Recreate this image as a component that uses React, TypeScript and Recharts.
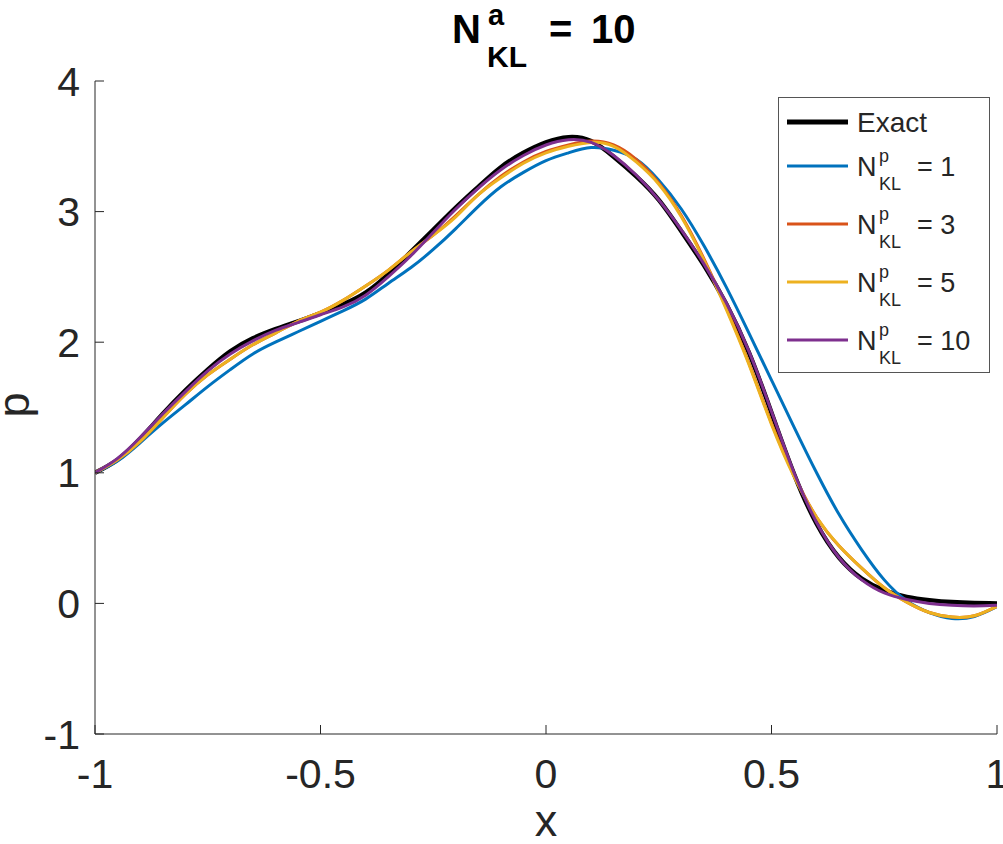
import { LineChart, Line, XAxis, YAxis, Legend } from 'recharts'

// x grid (step 0.05) and curve values
const xValues = [
  -1, -0.95, -0.9, -0.85, -0.8, -0.75, -0.7, -0.65, -0.6, -0.55, -0.5, -0.45, -0.4, -0.35,
  -0.3, -0.25, -0.2, -0.15, -0.1, -0.05, 0, 0.05, 0.1, 0.15, 0.2, 0.25, 0.3, 0.35, 0.4,
  0.45, 0.5, 0.55, 0.6, 0.65, 0.7, 0.75, 0.8, 0.85, 0.9, 0.95, 1,
]

const exact = [
  1.0, 1.1, 1.26, 1.45, 1.63, 1.79, 1.93, 2.03, 2.1, 2.16, 2.22, 2.29, 2.38, 2.52,
  2.69, 2.86, 3.03, 3.19, 3.34, 3.45, 3.53, 3.57, 3.54, 3.42, 3.27, 3.09, 2.85, 2.59, 2.29,
  1.92, 1.46, 0.99, 0.61, 0.35, 0.19, 0.1, 0.05, 0.025, 0.01, 0.003, 0.0,
]

const nkl1 = [
  1.0, 1.09, 1.23, 1.38, 1.52, 1.66, 1.79, 1.91, 2.0, 2.08, 2.16, 2.24, 2.33, 2.45,
  2.57, 2.71, 2.87, 3.04, 3.19, 3.3, 3.39, 3.45, 3.49, 3.47, 3.4, 3.24, 3.02, 2.74, 2.42,
  2.07, 1.71, 1.35, 1.0, 0.68, 0.41, 0.18, 0.02, -0.07, -0.115, -0.1, -0.025,
]

const nkl3 = [
  1.0, 1.1, 1.24, 1.42, 1.6, 1.75, 1.87, 1.98, 2.07, 2.16, 2.23, 2.32, 2.43, 2.55,
  2.69, 2.82, 2.97, 3.13, 3.27, 3.38, 3.46, 3.51, 3.54, 3.51, 3.4, 3.22, 2.97, 2.64, 2.26,
  1.84, 1.38, 0.98, 0.66, 0.44, 0.27, 0.12, 0.01, -0.07, -0.105, -0.095, -0.023,
]

const nkl5 = [
  1.0, 1.1, 1.24, 1.42, 1.6, 1.75, 1.87, 1.98, 2.07, 2.16, 2.23, 2.32, 2.43, 2.55,
  2.69, 2.82, 2.96, 3.13, 3.26, 3.37, 3.45, 3.5, 3.53, 3.5, 3.38, 3.21, 2.96, 2.63, 2.25,
  1.83, 1.37, 0.97, 0.66, 0.44, 0.27, 0.12, 0.01, -0.07, -0.105, -0.095, -0.023,
]

const nkl10 = [
  1.0, 1.11, 1.27, 1.45, 1.62, 1.78, 1.91, 2.01, 2.09, 2.15, 2.21, 2.27, 2.36, 2.5,
  2.66, 2.84, 3.02, 3.18, 3.32, 3.43, 3.51, 3.55, 3.53, 3.43, 3.28, 3.09, 2.86, 2.6, 2.3,
  1.93, 1.47, 1.0, 0.62, 0.35, 0.18, 0.08, 0.03, 0.0, -0.015, -0.02, -0.015,
]

const xTicks = [-1, -0.5, 0, 0.5, 1]
const yTicks = [-1, 0, 1, 2, 3, 4]

const SERIES = [
  { key: 'exact', color: '#000000', width: 4.5, label: 'Exact' },
  { key: 'n1', color: '#0072BD', width: 3, label: '1' },
  { key: 'n3', color: '#D95319', width: 3, label: '3' },
  { key: 'n5', color: '#EDB120', width: 3, label: '5' },
  { key: 'n10', color: '#7E2F8E', width: 3, label: '10' },
]

const data = xValues.map((x, i) => ({
  x,
  exact: exact[i],
  n1: nkl1[i],
  n3: nkl3[i],
  n5: nkl5[i],
  n10: nkl10[i],
}))

const AXIS = '#262626'
const FONT = '"Liberation Sans", Arial, Helvetica, sans-serif'
const TICK_FS = 41

function XTick(props: any) {
  const { x, y, payload } = props
  return (
    <g>
      <line x1={x} x2={x} y1={y} y2={y - 9} stroke={AXIS} strokeWidth={1} />
      <text x={x} y={y + 54} textAnchor="middle" fontSize={TICK_FS} fill={AXIS} fontFamily={FONT}>
        {payload.value}
      </text>
    </g>
  )
}

function YTick(props: any) {
  const { x, y, payload } = props
  return (
    <g>
      <line x1={x} x2={x + 9} y1={y} y2={y} stroke={AXIS} strokeWidth={1} />
      <text x={x - 15} y={y + 14.5} textAnchor="end" fontSize={TICK_FS} fill={AXIS} fontFamily={FONT}>
        {payload.value}
      </text>
    </g>
  )
}

// legend box, MATLAB style with N^p_KL labels
function LegendBox() {
  const rows = [25, 69, 127, 185, 243]
  return (
    <svg width={212} height={276} style={{ display: 'block' }}>
      <rect x={0.5} y={0.5} width={211} height={275} fill="#ffffff" stroke="#555555" />
      {SERIES.map((s, i) => {
        const cy = rows[i]
        return (
          <g key={s.key} fontFamily={FONT} fill={AXIS}>
            <line x1={9} x2={70} y1={cy} y2={cy} stroke={s.color} strokeWidth={s.key === 'exact' ? 5 : 3} />
            {s.key === 'exact' ? (
              <text x={79} y={cy + 10} fontSize={28}>Exact</text>
            ) : (
              <>
                <text x={79} y={cy + 10} fontSize={27}>N</text>
                <text x={101} y={cy - 4} fontSize={18}>p</text>
                <text x={101} y={cy + 24} fontSize={18}>KL</text>
                <text x={139} y={cy + 10} fontSize={27}>= {s.label}</text>
              </>
            )}
          </g>
        )
      })}
    </svg>
  )
}

export default function App() {
  return (
    <div style={{ position: 'absolute', left: 0, top: 0, width: 1003, height: 844, background: '#fff' }}>
      <LineChart width={1003} height={844} data={data} margin={{ top: 81, right: 6, bottom: 0, left: 0 }}>
        <XAxis
          dataKey="x"
          type="number"
          domain={[-1, 1]}
          ticks={xTicks}
          height={110}
          tickSize={0}
          tickMargin={0}
          tickLine={false}
          axisLine={{ stroke: AXIS, strokeWidth: 1 }}
          tick={(p: any) => <XTick {...p} />}
          allowDataOverflow
        />
        <YAxis
          type="number"
          domain={[-1, 4]}
          ticks={yTicks}
          width={95}
          tickSize={0}
          tickMargin={0}
          tickLine={false}
          axisLine={{ stroke: AXIS, strokeWidth: 1 }}
          tick={(p: any) => <YTick {...p} />}
          allowDataOverflow
        />
        <Legend
          layout="horizontal"
          verticalAlign="middle"
          align="center"
          wrapperStyle={{ left: 778, top: 97, width: 212, height: 276 }}
          content={() => <LegendBox />}
        />
        {SERIES.map((s) => (
          <Line
            key={s.key}
            type="natural"
            dataKey={s.key}
            stroke={s.color}
            strokeWidth={s.width}
            dot={false}
            isAnimationActive={false}
          />
        ))}
      </LineChart>
      <svg
        width={1003}
        height={844}
        style={{ position: 'absolute', left: 0, top: 0, pointerEvents: 'none' }}
        fontFamily={FONT}
        fill={AXIS}
      >
        {/* title N^a_KL = 10 */}
        <g fontWeight="bold" fill="#000">
          <text x={452} y={43} fontSize={40}>N</text>
          <text x={488} y={25} fontSize={29}>a</text>
          <text x={487} y={67} fontSize={30}>KL</text>
          <text x={549} y={43} fontSize={40}>=</text>
          <text x={591} y={43} fontSize={40}>10</text>
        </g>
        <text x={546} y={836} fontSize={45} textAnchor="middle">x</text>
        <text transform="translate(29,405) rotate(-90)" fontSize={45} textAnchor="middle">p</text>
      </svg>
    </div>
  )
}
